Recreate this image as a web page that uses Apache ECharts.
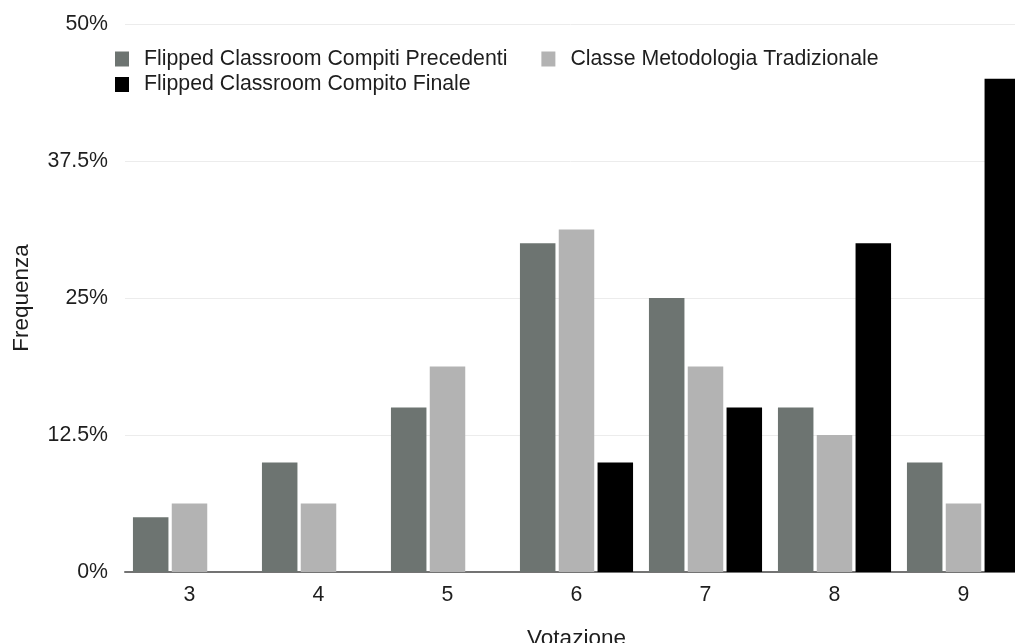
<!DOCTYPE html>
<html>
<head>
<meta charset="utf-8">
<script src="https://cdn.jsdelivr.net/npm/echarts@6/dist/echarts.min.js"></script>
<style>html,body{margin:0;padding:0;background:#fff;overflow:hidden}#c{width:1015px;height:643px}</style>
</head>
<body>
<div id="c"></div>
<script>
const categories = ['3', '4', '5', '6', '7', '8', '9'];
const seriesNames = ['Flipped Classroom Compiti Precedenti', 'Classe Metodologia Tradizionale', 'Flipped Classroom Compito Finale'];
const precedenti = [5, 10, 15, 30, 25, 15, 10];
const tradizionale = [6.25, 6.25, 18.75, 31.25, 18.75, 12.5, 6.25];
const finale = [0, 0, 0, 10, 15, 30, 45];
const yTicks = [0, 12.5, 25, 37.5, 50];
const xName = 'Votazione';
const yName = 'Frequenza';

const FONT = '"Liberation Sans", Arial, Helvetica, sans-serif';
const TXT = '#1e1e1e';
const FS = 21.3;
const colors = ['#6d7471', '#b3b3b3', '#000000'];

const chart = echarts.init(document.getElementById('c'), null, {renderer: 'canvas'});
const legendCommon = {
  icon: 'rect', itemWidth: 14, itemHeight: 15, itemGap: 34, left: 115, padding: 0,
  textStyle: {fontFamily: FONT, fontSize: FS, color: TXT, padding: [0, 0, 0, 10]},
  selectedMode: false
};
chart.setOption({
  animation: false,
  color: colors,
  legend: [
    Object.assign({}, legendCommon, {top: 48.5, data: [seriesNames[0], seriesNames[1]]}),
    Object.assign({}, legendCommon, {top: 74, data: [seriesNames[2]]})
  ],
  grid: {left: 125, right: -13, top: 24, bottom: 71, containLabel: false, outerBoundsMode: 'none'},
  xAxis: {
    type: 'category', data: categories,
    name: xName, nameLocation: 'middle', nameGap: 55,
    nameTextStyle: {fontFamily: FONT, fontSize: 22.5, color: TXT},
    axisTick: {show: false},
    axisLine: {lineStyle: {color: '#737373', width: 2}},
    axisLabel: {fontFamily: FONT, fontSize: FS, color: TXT, margin: 13}
  },
  yAxis: {
    type: 'value', min: yTicks[0], max: yTicks[yTicks.length - 1], interval: yTicks[1] - yTicks[0],
    name: yName, nameLocation: 'middle', nameGap: 92,
    nameTextStyle: {fontFamily: FONT, fontSize: 22.5, color: TXT},
    axisLine: {show: false}, axisTick: {show: false},
    axisLabel: {fontFamily: FONT, fontSize: FS, color: TXT, margin: 17, formatter: v => v + '%'},
    splitLine: {lineStyle: {color: '#ececec', width: 1}}
  },
  series: [
    {name: seriesNames[0], type: 'bar', data: precedenti, barWidth: 35.5, barGap: '9.3%'},
    {name: seriesNames[1], type: 'bar', data: tradizionale, barWidth: 35.5, barGap: '9.3%'},
    {name: seriesNames[2], type: 'bar', data: finale, barWidth: 35.5, barGap: '9.3%'}
  ]
});
</script>
</body>
</html>
